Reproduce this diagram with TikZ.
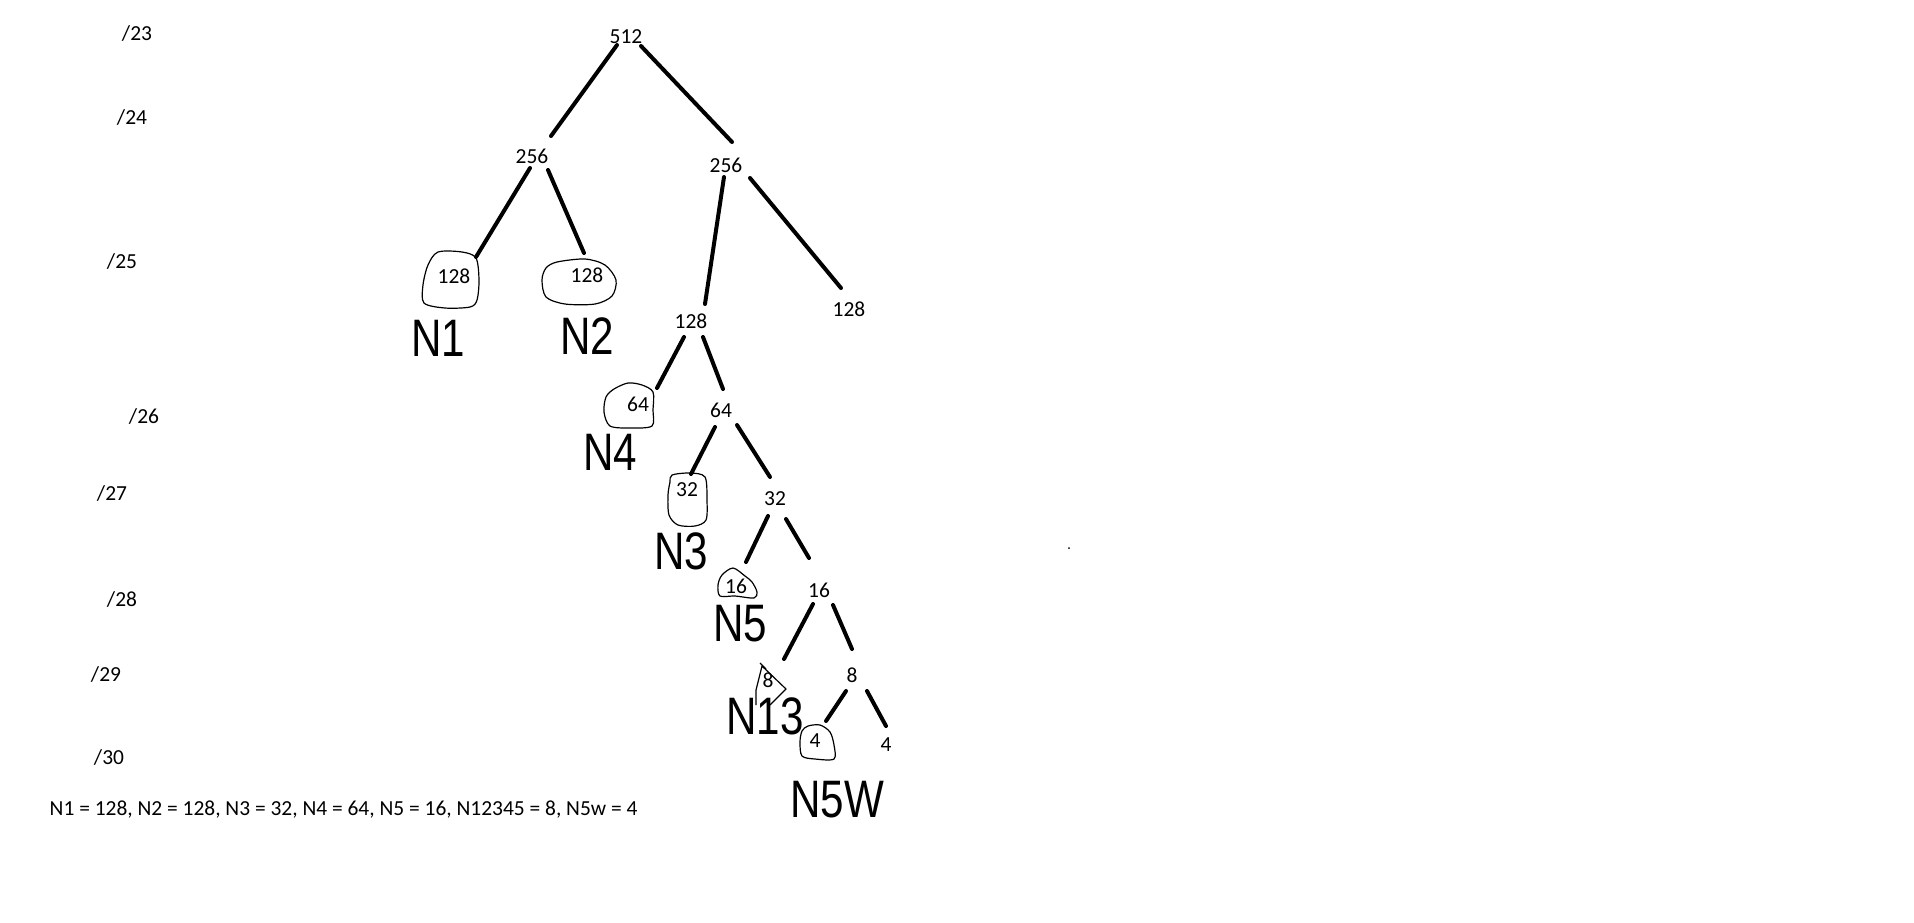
\documentclass[tikz,border=0pt]{standalone}
\usepackage{fontspec}
\setmainfont{Carlito}
\newfontfamily\handfont{Liberation Sans}
\usepackage{tikz}

\tikzset{
  num/.style={font=\fontsize{6.1}{7.3}\selectfont, inner sep=0pt},
  hand/.style={font=\handfont\fontsize{15}{15}\selectfont, xscale=0.8, inner sep=0pt},
  edge/.style={line width=0.4mm, line cap=round},
  blob/.style={line width=0.12mm, line join=round}
}

\begin{document}
\begin{tikzpicture}[x=0.1mm, y=-0.1mm]
    \useasboundingbox (0,0) rectangle (1914,922);

    \node[num] (l23) at (137,34) {/23};
    \node[num] (l24) at (132,118) {/24};
    \node[num] (l25) at (122,261) {/25};
    \node[num] (l26) at (144,416) {/26};
    \node[num] (l27) at (112,493) {/27};
    \node[num] (l28) at (122,599) {/28};
    \node[num] (l29) at (106,674) {/29};
    \node[num] (l30) at (109,757) {/30};

    \node[num] (n512) at (626,37) {512};
    \node[num] (n256a) at (532,156) {256};
    \node[num] (n256b) at (726,165) {256};
    \node[num] (n128a) at (454,276) {128};
    \node[num] (n128b) at (587,275) {128};
    \node[num] (n128c) at (691,321) {128};
    \node[num] (n128d) at (849,309) {128};
    \node[num] (n64a) at (638,404) {64};
    \node[num] (n64b) at (721,410) {64};
    \node[num] (n32a) at (687,490) {32};
    \node[num] (n32b) at (775,499) {32};
    \node[num] (n16a) at (736,586) {16};
    \node[num] (n16b) at (819,590) {16};
    \node[num] (n8a) at (768,680) {8};
    \node[num] (n8b) at (852,675) {8};
    \node[num] (n4a) at (815,741) {4};
    \node[num] (n4b) at (886,745) {4};

    \draw[edge] ([shift={(-9,8)}]n512.center) -- ([shift={(19,-20)}]n256a.center);
    \draw[edge] ([shift={(15,9)}]n512.center) -- ([shift={(6,-23)}]n256b.center);
    \draw[edge] ([shift={(-2,12)}]n256a.center) -- ([shift={(22,-19)}]n128a.center);
    \draw[edge] ([shift={(16,14)}]n256a.center) -- ([shift={(-3,-22)}]n128b.center);
    \draw[edge] ([shift={(-2,12)}]n256b.center) -- ([shift={(14,-17)}]n128c.center);
    \draw[edge] ([shift={(24,13)}]n256b.center) -- ([shift={(-8,-21)}]n128d.center);
    \draw[edge] ([shift={(-7,16)}]n128c.center) -- ([shift={(19,-16)}]n64a.center);
    \draw[edge] ([shift={(12,16)}]n128c.center) -- ([shift={(2,-21)}]n64b.center);
    \draw[edge] ([shift={(-6,17)}]n64b.center) -- ([shift={(4,-16)}]n32a.center);
    \draw[edge] ([shift={(16,15)}]n64b.center) -- ([shift={(-5,-22)}]n32b.center);
    \draw[edge] ([shift={(-7,17)}]n32b.center) -- ([shift={(10,-24)}]n16a.center);
    \draw[edge] ([shift={(11,20)}]n32b.center) -- ([shift={(-10,-32)}]n16b.center);
    \draw[edge] ([shift={(-6,14)}]n16b.center) -- ([shift={(16,-21)}]n8a.center);
    \draw[edge] ([shift={(14,15)}]n16b.center) -- ([shift={(0,-26)}]n8b.center);
    \draw[edge] ([shift={(-6,16)}]n8b.center) -- ([shift={(11,-20)}]n4a.center);
    \draw[edge] ([shift={(15,16)}]n8b.center) -- ([shift={(0,-19)}]n4b.center);

    \draw[blob] plot[smooth cycle] coordinates {(438,252) (462,252) (476,258) (479,280) (477,300) (470,307) (445,308) (424,303) (423,285) (428,265)};
    \draw[blob] plot[smooth cycle] coordinates {(557,262) (585,259) (605,265) (616,280) (612,296) (595,304) (565,304) (546,297) (542,280) (546,268)};
    \draw[blob] plot[smooth cycle] coordinates {(628,383) (642,385) (653,392) (653,410) (652,426) (630,428) (610,426) (604,412) (606,397) (614,389)};
    \draw[blob] plot[smooth cycle] coordinates {(672,475) (690,473) (705,477) (707,500) (706,520) (695,526) (678,525) (669,515) (668,495) (670,482)};
    \draw[blob] plot[smooth cycle] coordinates {(722,575) (733,568) (745,576) (752,582) (757,592) (754,598) (735,596) (720,596) (718,585)};
    \draw[blob] (760,663) -- (766,669) (762,666) -- (786,689) -- (770,705) (762,666) -- (756,690) -- (756,705);
    \draw[blob] plot[smooth cycle] coordinates {(808,726) (820,725) (830,732) (834,745) (834,759) (815,759) (802,756) (800,742) (802,731)};

    \node[hand] (h1) at (438,338) {N1};
    \node[hand] (h2) at (587,336) {N2};
    \node[hand] (h4) at (610,452) {N4};
    \node[hand] (h3) at (681,551) {N3};
    \node[hand] (h5) at (740,624) {N5};
    \node[hand] (h13) at (765,716) {N13};
    \node[hand] (h5w) at (837,800) {N5W};

    \node[num, anchor=west] (sum) at (49,810) {N1 = 128, N2 = 128, N3 = 32, N4 = 64, N5 = 16, N12345 = 8, N5w = 4};

    \fill (1069,548) circle (1);
\end{tikzpicture}
\end{document}
